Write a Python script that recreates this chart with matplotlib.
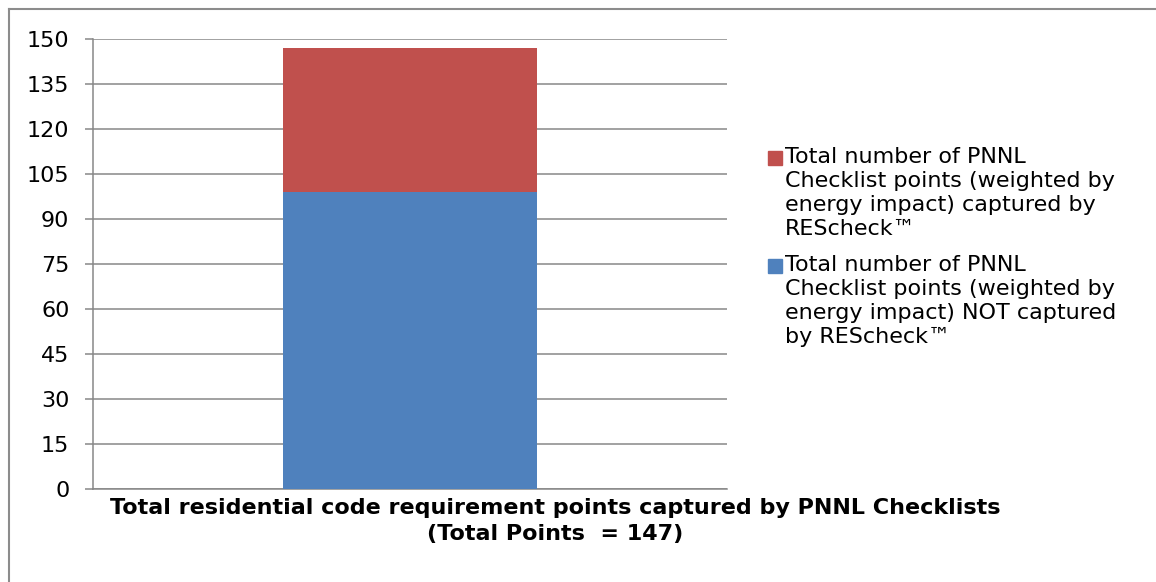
import matplotlib
matplotlib.use("Agg")
import matplotlib.pyplot as plt
from matplotlib.patches import Rectangle
from matplotlib.lines import Line2D

plt.rcParams['font.family'] = ['DejaVu Sans']

categories = ["Total residential code requirement points captured by PNNL Checklists\n(Total Points  = 147)"]
not_captured = [99]
captured = [48]
series_labels = [
    "Total number of PNNL\nChecklist points (weighted by\nenergy impact) captured by\nREScheck\u2122",
    "Total number of PNNL\nChecklist points (weighted by\nenergy impact) NOT captured\nby REScheck\u2122",
]
yticks = list(range(0, 151, 15))
colors = {"captured": "#C0504D", "not": "#4F81BD"}
grid_color = "#878787"

fig = plt.figure(figsize=(11.56, 5.82), dpi=100)
ax = fig.add_axes([93/1156, 1-489/582, (727-93)/1156, (489-39)/582])

x = list(range(len(categories)))
ax.bar(x, not_captured, width=0.4, color=colors["not"], zorder=3)
ax.bar(x, captured, width=0.4, bottom=not_captured, color=colors["captured"], zorder=3)

ax.set_xlim(-0.5, 0.5)
ax.set_ylim(0, 150)
ax.set_yticks(yticks)
ax.set_yticklabels([str(v) for v in yticks], fontsize=16)
ax.set_xticks([])
ax.yaxis.grid(True, color=grid_color, linewidth=1.1, zorder=0)
for s in ["top", "right"]:
    ax.spines[s].set_visible(False)
ax.spines["left"].set_color(grid_color)
ax.spines["bottom"].set_color(grid_color)
ax.spines["left"].set_linewidth(1.1)
ax.spines["bottom"].set_linewidth(1.1)
ax.tick_params(axis="y", length=6, width=1.1, color=grid_color, pad=11)

# x label (category)
fig.text(555/1156, 1-(498)/582, categories[0], ha="center", va="top",
         fontsize=16, fontweight="bold", linespacing=1.38)

# legend (manual: square aligned with first line)
leg_items = [(series_labels[0], colors["captured"], 158), (series_labels[1], colors["not"], 266)]
for label, col, ycen in leg_items:
    fig.patches.append(Rectangle((768/1156, 1-(ycen+7)/582), 14/1156, 14/582,
                                 transform=fig.transFigure, color=col, figure=fig))
    fig.text(785/1156, 1-(ycen-11)/582, label, ha="left", va="top", fontsize=16,
             linespacing=1.24)

# outer border (top and left visible)
fig.add_artist(Line2D([9/1156, 1], [1-9/582, 1-9/582], transform=fig.transFigure, color="#8c8c8c", lw=1.5))
fig.add_artist(Line2D([9/1156, 9/1156], [0, 1-9/582], transform=fig.transFigure, color="#8c8c8c", lw=1.5))

fig.savefig("out.png", dpi=100)
